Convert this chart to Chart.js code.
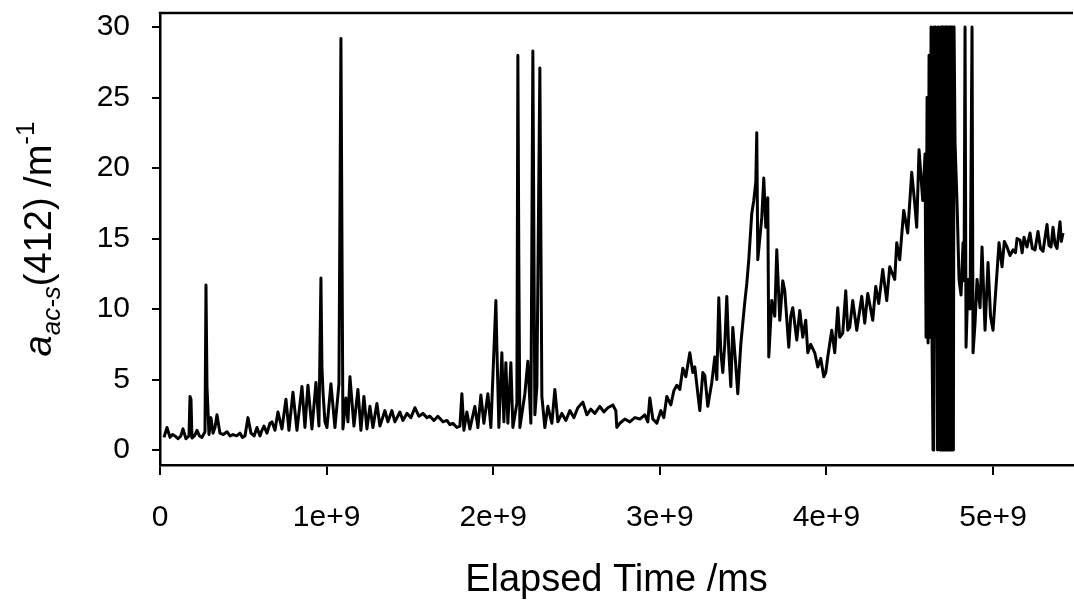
<!DOCTYPE html>
<html>
<head>
<meta charset="utf-8">
<script src="https://cdn.jsdelivr.net/npm/chart.js@4.4.1/dist/chart.umd.min.js"></script>
<style>
  body { margin: 0; background: #fff; }
  #wrap { width: 1074px; height: 601px; }
</style>
</head>
<body>
<div id="wrap"><canvas id="chart" width="1074" height="601"></canvas></div>
<script>
// elapsed time in units of 1e9 ms
const elapsedE9 = [
  0.024, 0.042, 0.060, 0.075, 0.090, 0.108, 0.125, 0.138, 0.156, 0.174,
  0.180, 0.186, 0.192, 0.207, 0.222, 0.237, 0.252, 0.270, 0.276, 0.282,
  0.294, 0.306, 0.318, 0.330, 0.342, 0.360, 0.380, 0.402, 0.420, 0.438,
  0.460, 0.480, 0.495, 0.510, 0.528, 0.546, 0.565, 0.582, 0.600, 0.612,
  0.624, 0.642, 0.660, 0.672, 0.690, 0.708, 0.732, 0.756, 0.774, 0.798,
  0.822, 0.852, 0.870, 0.888, 0.912, 0.936, 0.954, 0.966, 0.972, 0.978,
  0.990, 1.002, 1.026, 1.050, 1.074, 1.086, 1.098, 1.116, 1.128, 1.140,
  1.164, 1.188, 1.206, 1.224, 1.242, 1.260, 1.278, 1.302, 1.320, 1.350,
  1.368, 1.392, 1.410, 1.440, 1.458, 1.482, 1.506, 1.530, 1.554, 1.578,
  1.602, 1.620, 1.644, 1.668, 1.698, 1.722, 1.740, 1.758, 1.782, 1.800,
  1.812, 1.824, 1.842, 1.860, 1.890, 1.908, 1.926, 1.944, 1.968, 1.986,
  1.998, 2.016, 2.022, 2.034, 2.052, 2.064, 2.076, 2.088, 2.106, 2.118,
  2.142, 2.148, 2.154, 2.160, 2.190, 2.208, 2.226, 2.238, 2.250, 2.262,
  2.280, 2.292, 2.310, 2.328, 2.352, 2.370, 2.388, 2.412, 2.436, 2.460,
  2.484, 2.508, 2.538, 2.562, 2.586, 2.610, 2.640, 2.664, 2.688, 2.718,
  2.736, 2.742, 2.760, 2.790, 2.820, 2.850, 2.880, 2.910, 2.928, 2.940,
  2.958, 2.982, 3.006, 3.024, 3.042, 3.066, 3.084, 3.102, 3.120, 3.138,
  3.156, 3.180, 3.198, 3.210, 3.228, 3.240, 3.258, 3.270, 3.288, 3.312,
  3.330, 3.342, 3.354, 3.366, 3.378, 3.390, 3.402, 3.414, 3.426, 3.438,
  3.456, 3.468, 3.486, 3.498, 3.510, 3.522, 3.534, 3.552, 3.564, 3.576,
  3.582, 3.588, 3.600, 3.612, 3.624, 3.636, 3.648, 3.654, 3.672, 3.690,
  3.702, 3.720, 3.738, 3.750, 3.774, 3.786, 3.798, 3.822, 3.840, 3.858,
  3.876, 3.888, 3.906, 3.930, 3.948, 3.966, 3.984, 3.996, 4.008, 4.032,
  4.050, 4.068, 4.080, 4.098, 4.116, 4.128, 4.140, 4.158, 4.182, 4.212,
  4.230, 4.248, 4.278, 4.296, 4.314, 4.338, 4.362, 4.380, 4.410, 4.422,
  4.440, 4.464, 4.488, 4.512, 4.530, 4.542, 4.556, 4.578, 4.592, 4.598,
  4.604, 4.610, 4.616, 4.622, 4.628, 4.634, 4.640, 4.644, 4.650, 4.656,
  4.662, 4.667, 4.671, 4.677, 4.682, 4.686, 4.690, 4.694, 4.698, 4.702,
  4.706, 4.710, 4.714, 4.718, 4.722, 4.726, 4.730, 4.734, 4.738, 4.742,
  4.746, 4.750, 4.754, 4.758, 4.762, 4.766, 4.772, 4.784, 4.796, 4.808,
  4.820, 4.826, 4.832, 4.838, 4.850, 4.862, 4.874, 4.880, 4.892, 4.904,
  4.922, 4.934, 4.952, 4.970, 4.985, 5.000, 5.018, 5.036, 5.054, 5.068,
  5.084, 5.102, 5.120, 5.135, 5.144, 5.162, 5.175, 5.186, 5.204, 5.222,
  5.236, 5.252, 5.270, 5.285, 5.300, 5.324, 5.336, 5.348, 5.360, 5.372,
  5.384, 5.402, 5.410, 5.420
];

// a_ac-s(412) in 1/m
const absorption = [
  0.9, 1.6, 0.9, 1.1, 1.0, 0.8, 1.0, 1.5, 0.8, 1.0,
  3.8, 3.6, 0.85, 1.0, 1.4, 1.0, 0.9, 1.3, 11.7, 4.5,
  1.1, 2.3, 1.2, 1.6, 2.5, 1.2, 1.1, 1.3, 1.0, 1.1,
  1.0, 1.2, 0.9, 1.0, 2.3, 1.2, 1.0, 1.6, 1.0, 1.4,
  1.7, 1.2, 1.9, 2.0, 1.4, 2.7, 1.5, 3.6, 1.4, 4.1,
  1.4, 4.5, 1.6, 4.6, 1.5, 4.8, 1.7, 12.2, 5.9, 4.2,
  2.0, 1.6, 4.7, 1.6, 4.7, 29.2, 1.5, 3.7, 2.0, 5.2,
  1.7, 4.3, 1.4, 3.8, 1.5, 3.1, 1.6, 3.3, 1.7, 2.8,
  2.0, 2.8, 2.0, 2.7, 2.1, 2.6, 2.3, 3.0, 2.4, 2.6,
  2.3, 2.4, 2.1, 2.4, 2.0, 2.1, 1.8, 1.9, 1.6, 1.7,
  4.0, 1.4, 2.7, 1.5, 3.1, 1.6, 3.9, 1.9, 4.0, 1.6,
  5.2, 10.6, 7.3, 1.6, 6.9, 2.0, 6.2, 1.9, 6.2, 1.6,
  3.3, 28.0, 12.9, 1.6, 4.0, 6.3, 1.9, 28.3, 2.5, 4.5,
  27.1, 3.8, 1.6, 3.1, 1.9, 4.3, 2.0, 2.6, 2.1, 2.8,
  2.3, 3.0, 3.4, 2.5, 2.9, 2.6, 3.1, 2.7, 3.0, 3.2,
  2.8, 1.6, 1.9, 2.2, 2.0, 2.3, 2.2, 2.5, 2.0, 3.7,
  2.2, 1.9, 2.8, 2.3, 3.8, 3.2, 4.2, 4.6, 4.3, 5.8,
  5.2, 6.9, 5.5, 5.9, 4.0, 2.8, 5.5, 5.3, 3.1, 4.8,
  6.6, 5.0, 10.8, 7.0, 5.5, 7.5, 10.9, 7.0, 4.5, 8.7,
  6.0, 4.0, 7.5, 9.0, 10.5, 11.8, 13.5, 16.8, 17.7, 19.0,
  22.5, 13.5, 15.0, 16.5, 19.3, 15.8, 17.9, 6.6, 10.6, 9.5,
  14.2, 9.2, 12.0, 11.3, 7.3, 9.5, 10.1, 7.8, 9.9, 8.0,
  9.2, 6.9, 7.5, 6.9, 5.9, 6.5, 5.2, 5.5, 6.6, 8.5,
  6.9, 10.1, 8.0, 8.3, 11.3, 8.5, 8.7, 10.6, 8.5, 10.9,
  9.0, 11.1, 9.2, 11.6, 10.4, 12.8, 10.6, 13.0, 12.1, 14.7,
  13.5, 17.0, 15.4, 19.7, 17.5, 15.8, 21.3, 17.7, 21.0, 8.0,
  25.0, 7.6, 28.0, 8.0, 30, 7.5, 0, 30, 8.0, 30,
  8.5, 0, 30, 8.0, 0, 30, 0, 30, 0, 30,
  0, 30, 0, 30, 0, 30, 0, 30, 0, 30,
  0, 30, 0, 30, 0, 30, 21.8, 17.5, 12.1, 11.0,
  14.7, 12.0, 30, 7.3, 12.1, 10.0, 30, 6.9, 9.0, 12.1,
  10.1, 14.4, 8.5, 13.3, 9.5, 8.5, 11.6, 14.7, 13.0, 14.8,
  14.4, 13.8, 14.2, 14.0, 15.0, 14.9, 14.0, 15.1, 14.4, 15.4,
  14.3, 14.2, 15.5, 14.3, 14.1, 16.0, 14.5, 14.4, 15.8, 14.6,
  14.3, 16.2, 14.8, 15.4
];

const xTicks = [0, 1e9, 2e9, 3e9, 4e9, 5e9];
const yTicks = [0, 5, 10, 15, 20, 25, 30];

const FONT = 'Arial, "Liberation Sans", sans-serif';

const points = elapsedE9.map((t, i) => ({ x: t * 1e9, y: absorption[i] }));

// top frame line + axis titles (y title has sub/superscripts)
const axisTitles = {
  id: 'axisTitles',
  afterDraw(chart) {
    const { ctx, chartArea } = chart;
    ctx.save();
    ctx.strokeStyle = '#000';
    ctx.lineWidth = 2.5;
    ctx.beginPath();
    ctx.moveTo(chartArea.left - 1.25, chartArea.top);
    ctx.lineTo(chartArea.right, chartArea.top);
    ctx.stroke();

    ctx.fillStyle = '#000';
    ctx.textBaseline = 'alphabetic';
    ctx.textAlign = 'center';
    ctx.font = '38px ' + FONT;
    ctx.fillText('Elapsed Time /ms', (chartArea.left + chartArea.right) / 2, 591);

    const parts = [
      { text: 'a', font: 'italic 38px ' + FONT, dy: 0 },
      { text: 'ac-s', font: 'italic 26px ' + FONT, dy: 9 },
      { text: '(412) /m', font: '38px ' + FONT, dy: 0 },
      { text: '-1', font: '26px ' + FONT, dy: -17 }
    ];
    let total = 0;
    parts.forEach(p => { ctx.font = p.font; p.w = ctx.measureText(p.text).width; total += p.w; });
    ctx.translate(51, (chartArea.top + chartArea.bottom) / 2);
    ctx.rotate(-Math.PI / 2);
    ctx.textAlign = 'left';
    let x = -total / 2;
    parts.forEach(p => {
      ctx.font = p.font;
      ctx.fillText(p.text, x, p.dy);
      x += p.w;
    });
    ctx.restore();
  }
};

new Chart(document.getElementById('chart').getContext('2d'), {
  type: 'line',
  data: {
    datasets: [{
      data: points,
      borderColor: '#000',
      borderWidth: 3,
      borderJoinStyle: 'round',
      pointRadius: 0,
      tension: 0,
      fill: false
    }]
  },
  options: {
    responsive: false,
    animation: false,
    events: [],
    layout: { padding: { top: 13, right: 1, left: 0, bottom: 0 } },
    plugins: { legend: { display: false }, tooltip: { enabled: false } },
    scales: {
      x: {
        type: 'linear',
        min: 0,
        max: 5.48e9,
        afterFit: s => { s.height = 136; s.paddingLeft = 0; s.paddingRight = 0; },
        afterBuildTicks: s => { s.ticks = xTicks.map(v => ({ value: v })); },
        border: { display: true, color: '#000', width: 2.5 },
        grid: { display: true, drawOnChartArea: false, drawTicks: true, tickLength: 10, color: '#000', lineWidth: 2 },
        ticks: {
          color: '#000',
          font: { family: FONT, size: 30 },
          padding: 25,
          maxRotation: 0,
          callback: v => v === 0 ? '0' : (v / 1e9) + 'e+9'
        }
      },
      y: {
        type: 'linear',
        min: -1.06,
        max: 31,
        afterFit: s => { s.width = 160; s.paddingTop = 0; s.paddingBottom = 0; },
        afterBuildTicks: s => { s.ticks = yTicks.map(v => ({ value: v })); },
        border: { display: true, color: '#000', width: 2.5 },
        grid: { display: true, drawOnChartArea: false, drawTicks: true, tickLength: 8, color: '#000', lineWidth: 2 },
        ticks: {
          color: '#000',
          font: { family: FONT, size: 30 },
          padding: 22
        }
      }
    }
  },
  plugins: [axisTitles]
});
</script>
</body>
</html>
